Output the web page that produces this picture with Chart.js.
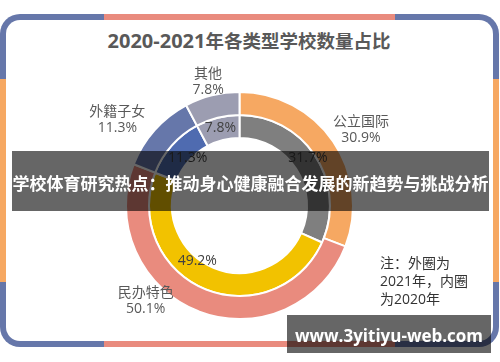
<!DOCTYPE html>
<html><head><meta charset="utf-8">
<script src="https://cdn.jsdelivr.net/npm/chart.js@4.4.1/dist/chart.umd.min.js"></script>
<style>
html,body{margin:0;padding:0;background:#fff;}
#wrap{position:relative;width:500px;height:362px;overflow:hidden;font-family:"Open Sans","Noto Sans CJK SC",sans-serif;}
.frame{position:absolute;left:0;top:14px;width:499px;height:333px;border-radius:20px;overflow:hidden;background:#6677AA;}
.seg{position:absolute;}
.inner{position:absolute;left:6px;top:6px;right:6px;bottom:6px;border-radius:14px;background:#fff;}
#c{position:absolute;left:0;top:0;}
#title{position:absolute;left:0;top:25px;width:498px;line-height:30px;text-align:center;font-weight:bold;color:#595959;white-space:nowrap;}
#title .n{font-family:"Open Sans",sans-serif;font-size:20px;}
#title .z{font-family:"Noto Sans CJK SC",sans-serif;font-size:18.5px;}
#note{position:absolute;left:380px;top:254px;font-size:14px;line-height:18px;color:#333;white-space:nowrap;}
#banner{position:absolute;left:12px;top:151px;width:477px;height:56px;padding-top:4px;line-height:56px;background:rgba(0,0,0,0.6);color:#fff;font-weight:bold;font-size:17px;text-align:center;white-space:nowrap;font-family:"Noto Sans CJK SC",sans-serif;}
#wm{position:absolute;left:287px;top:315px;width:204px;height:35px;padding-top:3px;line-height:35px;background:rgba(0,0,0,0.6);color:#fff;font-weight:bold;font-size:17px;text-align:center;white-space:nowrap;font-family:"Open Sans",sans-serif;}
</style></head>
<body>
<div id="wrap">
  <div class="frame">
    <div class="seg" style="left:104px;top:0;width:291px;height:10px;background:#E98B7E"></div>
    <div class="seg" style="left:104px;bottom:0;width:291px;height:10px;background:#E98B7E"></div>
    <div class="seg" style="left:0;top:65px;width:10px;height:203px;background:#F6A862"></div>
    <div class="seg" style="right:0;top:65px;width:10px;height:203px;background:#F6A862"></div>
    <div class="inner"></div>
  </div>
  <div id="title"><span class="n">2020-2021</span><span class="z">年各类型学校数量占比</span></div>
  <canvas id="c" width="500" height="362"></canvas>
  <div id="note">注：外圈为<br>2021年，内圈<br>为2020年</div>
  <div id="banner">学校体育研究热点：推动身心健康融合发展的新趋势与挑战分析</div>
  <div id="wm">www.3yitiyu-web.com</div>
</div>
<script>
const categories = ['公立国际', '民办特色', '外籍子女', '其他'];
const values2021 = [30.9, 50.1, 11.3, 7.8];
const values2020 = [31.7, 49.2, 11.3, 7.8];
const colors2021 = ['#F6A862', '#E98B7E', '#6677AA', '#9C9DB1'];
const colors2020 = ['#7F7F7F', '#F2C200', '#4F6BB0', '#9C9DB1'];

// label layout: fraction along the arc and radial distance from centre
const outerPlacement = [{f:0.523,d:143},{f:0.629,d:134},{f:0.335,d:149},{f:0.49,d:127}];
const innerPlacement = [{f:0.486,d:83},{f:0.583,d:69.5},{f:0.516,d:70},{f:0.51,d:80}];

const labelPlugin = {
  id: 'sliceLabels',
  afterDatasetsDraw(chart) {
    const ctx = chart.ctx;
    ctx.save();
    ctx.font = '14px "Open Sans", "Noto Sans CJK SC", sans-serif';
    ctx.textAlign = 'center';
    ctx.textBaseline = 'middle';
    chart.data.datasets.forEach((ds, di) => {
      const meta = chart.getDatasetMeta(di);
      const place = di === 0 ? outerPlacement : innerPlacement;
      meta.data.forEach((arc, i) => {
        const p = arc.getProps(['x','y','startAngle','endAngle'], true);
        const a = p.startAngle + place[i].f * (p.endAngle - p.startAngle);
        const x = p.x + Math.cos(a) * place[i].d;
        const y = p.y + Math.sin(a) * place[i].d;
        const pct = ds.data[i].toFixed(1) + '%';
        if (di === 0) {
          ctx.fillStyle = '#595959';
          ctx.fillText(categories[i], x, y - 8);
          ctx.fillText(pct, x, y + 8);
        } else {
          ctx.fillStyle = '#404040';
          ctx.fillText(pct, x, y);
        }
      });
    });
    ctx.restore();
  }
};

new Chart(document.getElementById('c'), {
  type: 'doughnut',
  data: {
    labels: categories,
    datasets: [
      { label: '2021', data: values2021, backgroundColor: colors2021, borderColor: '#fff', borderWidth: 2 },
      { label: '2020', data: values2020, backgroundColor: colors2020, borderColor: '#fff', borderWidth: 2 }
    ]
  },
  options: {
    responsive: false,
    animation: false,
    radius: 113.5,
    cutout: '59.5%',
    layout: { padding: { left: 126, right: 147, top: 92, bottom: 43 } },
    plugins: { legend: { display: false }, tooltip: { enabled: false }, title: { display: false } }
  },
  plugins: [labelPlugin]
});
</script>
</body></html>
